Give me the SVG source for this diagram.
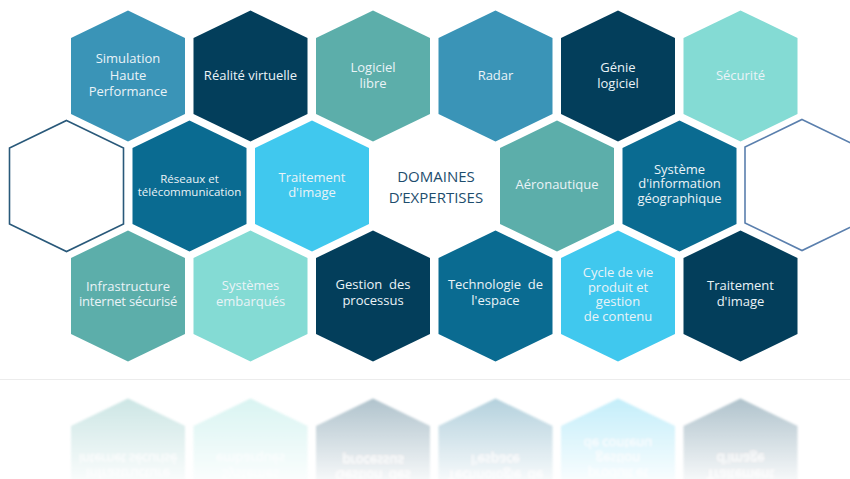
<svg xmlns="http://www.w3.org/2000/svg" xmlns:xlink="http://www.w3.org/1999/xlink" width="850" height="479" viewBox="0 0 850 479">
  <style>
    .lbl { font-family: "Open Sans", "Noto Sans", "Liberation Sans", sans-serif; font-size: 13px; fill: #eaf3f7; text-anchor: middle; white-space: pre; }
    .sm { font-size: 11.5px; }
    .title { font-family: "Open Sans", "Noto Sans", "Liberation Sans", sans-serif; font-size: 15px; fill: #1e4d6d; text-anchor: middle; }
    .blue { fill: #3a94b7; }
    .navy { fill: #033e5b; }
    .teal { fill: #5caeaa; }
    .mint { fill: #84dbd4; }
    .ocean { fill: #0a6b91; }
    .sky { fill: #40c8ee; }
    .outline { fill: #ffffff; stroke-width: 1.6; }
  </style>
  <defs>
    <!-- pointy-top hexagon centred on the origin -->
    <polygon id="hex" points="0,-65.5 57,-38 57,38 0,65.5 -57,38 -57,-38"/>
    <linearGradient id="fade" gradientUnits="userSpaceOnUse" x1="0" y1="396" x2="0" y2="479">
      <stop offset="0" stop-color="#fff" stop-opacity="0.32"/>
      <stop offset="1" stop-color="#fff" stop-opacity="0.04"/>
    </linearGradient>
    <mask id="reflMask" maskUnits="userSpaceOnUse" x="0" y="380" width="850" height="99">
      <rect x="0" y="380" width="850" height="99" fill="url(#fade)"/>
    </mask>
    <filter id="soft" x="-5%" y="-20%" width="110%" height="140%">
      <feGaussianBlur stdDeviation="1.3"/>
    </filter>
  </defs>

  <rect width="850" height="479" fill="#ffffff"/>

  <!-- top row -->
  <g id="row1">
    <g id="simulation">
      <use xlink:href="#hex" x="128" y="76" class="blue"/>
      <text class="lbl" x="128" y="63">Simulation</text>
      <text class="lbl" x="128" y="80">Haute</text>
      <text class="lbl" x="128" y="96">Performance</text>
    </g>
    <g id="realite-virtuelle">
      <use xlink:href="#hex" x="250.5" y="76" class="navy"/>
      <text class="lbl" x="250.5" y="80">Réalité virtuelle</text>
    </g>
    <g id="logiciel-libre">
      <use xlink:href="#hex" x="373" y="76" class="teal"/>
      <text class="lbl" x="373" y="72">Logiciel</text>
      <text class="lbl" x="373" y="88">libre</text>
    </g>
    <g id="radar">
      <use xlink:href="#hex" x="495.5" y="76" class="blue"/>
      <text class="lbl" x="495.5" y="80">Radar</text>
    </g>
    <g id="genie-logiciel">
      <use xlink:href="#hex" x="618" y="76" class="navy"/>
      <text class="lbl" x="618" y="72">Génie</text>
      <text class="lbl" x="618" y="88">logiciel</text>
    </g>
    <g id="securite">
      <use xlink:href="#hex" x="740.5" y="76" class="mint"/>
      <text class="lbl" x="740.5" y="80">Sécurité</text>
    </g>
  </g>

  <!-- middle row -->
  <g id="row2">
    <g id="empty-left">
      <use xlink:href="#hex" x="66.5" y="186" class="outline" stroke="#29597a"/>
    </g>
    <g id="reseaux">
      <use xlink:href="#hex" x="189.5" y="186" class="ocean"/>
      <text class="lbl sm" x="189.5" y="183">Réseaux et</text>
      <text class="lbl sm" x="189.5" y="195.5">télécommunication</text>
    </g>
    <g id="traitement-image-1">
      <use xlink:href="#hex" x="312" y="186" class="sky"/>
      <text class="lbl" x="312" y="182">Traitement</text>
      <text class="lbl" x="312" y="197">d'image</text>
    </g>
    <g id="domaines">
      <text class="title" x="436" y="182">DOMAINES</text>
      <text class="title" x="436" y="203">D’EXPERTISES</text>
    </g>
    <g id="aeronautique">
      <use xlink:href="#hex" x="557" y="186" class="teal"/>
      <text class="lbl" x="557" y="189">Aéronautique</text>
    </g>
    <g id="sig">
      <use xlink:href="#hex" x="679.5" y="186" class="ocean"/>
      <text class="lbl" x="679.5" y="173.5">Système</text>
      <text class="lbl" x="679.5" y="188">d'information</text>
      <text class="lbl" x="679.5" y="202.5">géographique</text>
    </g>
    <g id="empty-right">
      <use xlink:href="#hex" x="802" y="185" class="outline" stroke="#5a7fad"/>
    </g>
  </g>

  <!-- bottom row -->
  <g id="row3">
    <g id="infrastructure">
      <use xlink:href="#hex" x="128" y="296" class="teal"/>
      <text class="lbl" x="128" y="291">Infrastructure</text>
      <text class="lbl" x="128" y="306" letter-spacing="-0.2">internet sécurisé</text>
    </g>
    <g id="systemes-embarques">
      <use xlink:href="#hex" x="250.5" y="296" class="mint"/>
      <text class="lbl" x="250.5" y="290">Systèmes</text>
      <text class="lbl" x="250.5" y="306">embarqués</text>
    </g>
    <g id="gestion-processus">
      <use xlink:href="#hex" x="373" y="296" class="navy"/>
      <text class="lbl" x="373" y="289">Gestion  des</text>
      <text class="lbl" x="373" y="304.5">processus</text>
    </g>
    <g id="technologie-espace">
      <use xlink:href="#hex" x="495.5" y="296" class="ocean"/>
      <text class="lbl" x="495.5" y="289">Technologie  de</text>
      <text class="lbl" x="495.5" y="305">l'espace</text>
    </g>
    <g id="cycle-de-vie">
      <use xlink:href="#hex" x="618" y="296" class="sky"/>
      <text class="lbl" x="618" y="277">Cycle de vie</text>
      <text class="lbl" x="618" y="291.5">produit et</text>
      <text class="lbl" x="618" y="306">gestion</text>
      <text class="lbl" x="618" y="321">de contenu</text>
    </g>
    <g id="traitement-image-2">
      <use xlink:href="#hex" x="740.5" y="296" class="navy"/>
      <text class="lbl" x="740.5" y="290">Traitement</text>
      <text class="lbl" x="740.5" y="306">d'image</text>
    </g>
  </g>

  <!-- floor line and mirrored bottom row -->
  <line x1="0" y1="379.5" x2="850" y2="379.5" stroke="#ececec" stroke-width="1"/>
  <g id="reflection" mask="url(#reflMask)">
    <use xlink:href="#row3" transform="matrix(1 0 0 -1 0 760)" filter="url(#soft)"/>
  </g>
</svg>
